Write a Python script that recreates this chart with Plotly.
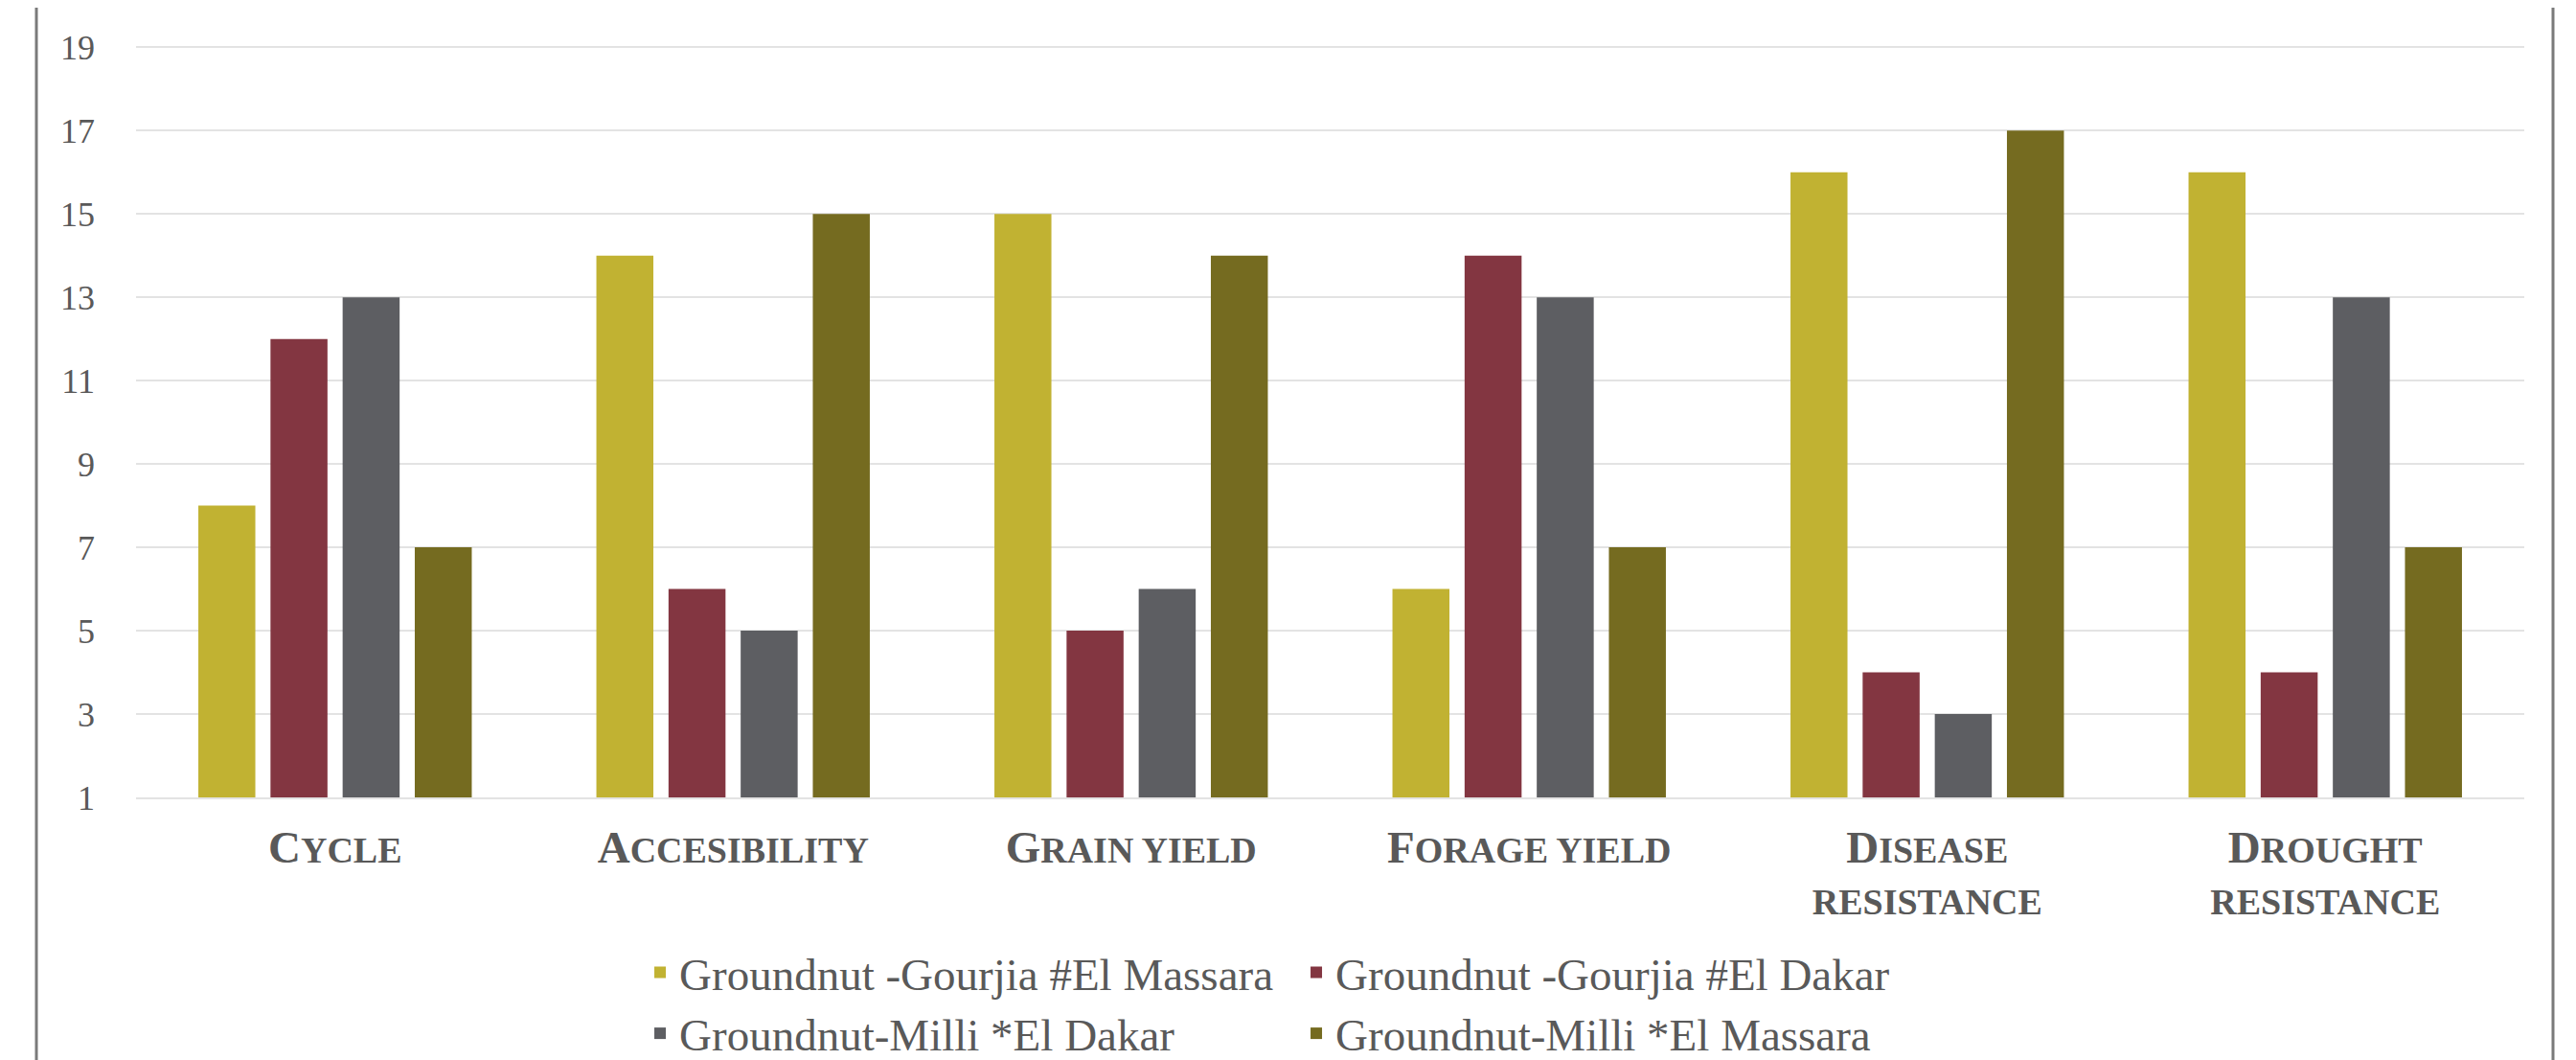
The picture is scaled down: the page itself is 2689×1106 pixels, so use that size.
import plotly.graph_objects as go

# ---- data ----
categories = ["Cycle", "Accesibility", "Grain yield", "Forage yield",
              "Disease<br>resistance", "Drought<br>resistance"]
series_names = ["Groundnut -Gourjia #El Massara", "Groundnut -Gourjia #El Dakar",
                "Groundnut-Milli *El Dakar", "Groundnut-Milli *El Massara"]
gourjia_massara = [8, 14, 15, 6, 16, 16]
gourjia_dakar = [12, 6, 5, 14, 4, 4]
milli_dakar = [13, 5, 6, 13, 3, 13]
milli_massara = [7, 15, 14, 7, 17, 7]
y_tick_values = [1, 3, 5, 7, 9, 11, 13, 15, 17, 19]

series_values = [gourjia_massara, gourjia_dakar, milli_dakar, milli_massara]
colors = ["#C1B232", "#833641", "#5D5E62", "#756B20"]
legend_ids = ["legend", "legend", "legend2", "legend2"]

# page body has an 8px margin: figure sized / placed to compensate
W, H = 2673, 1098
ML, MR, MT, MB = 134, 46, 40, 274
text_color = "#595959"
serif = "Liberation Serif"
BIG, SMALL = 47, 38


def small_caps(label):
    lines = []
    for line in label.split("<br>"):
        parts = []
        for i, word in enumerate(line.split(" ")):
            sep = " " if i > 0 else ""
            if word[:1].isupper():
                parts.append('<span style="font-size:%dpx">%s%s</span>' % (BIG, sep, word[0]))
                if word[1:]:
                    parts.append('<span style="font-size:%dpx">%s</span>' % (SMALL, word[1:].upper()))
            else:
                parts.append('<span style="font-size:%dpx">%s%s</span>' % (SMALL, sep, word.upper()))
        lines.append("".join(parts))
    return "<br>".join(lines)


tick_text = [small_caps(c) for c in categories]

fig = go.Figure()
for name, vals, col, lg in zip(series_names, series_values, colors, legend_ids):
    fig.add_trace(go.Bar(
        x=categories, y=vals, name=name,
        marker=dict(color=col, line=dict(width=0)),
        legend=lg,
    ))

plot_w = W - ML - MR
x_left = (30 - ML) / plot_w
x_right = (2657 - ML) / plot_w

legend_common = dict(
    orientation="h", xref="container", yref="container",
    xanchor="left", yanchor="middle",
    font=dict(family=serif, size=47, color=text_color),
    entrywidth=640, entrywidthmode="pixels",
    bgcolor="rgba(0,0,0,0)", borderwidth=0,
    traceorder="normal",
)

fig.update_layout(
    width=W, height=H,
    margin=dict(l=ML, r=MR, t=MT, b=MB, autoexpand=False),
    paper_bgcolor="white", plot_bgcolor="white",
    barmode="group", bargap=0.275, bargroupgap=0.21,
    font=dict(family=serif, color=text_color),
    showlegend=True,
    legend=dict(x=0.2473, y=0.083, **legend_common),
    legend2=dict(x=0.2473, y=0.025, **legend_common),
    xaxis=dict(
        showgrid=False, zeroline=False,
        showline=True, linecolor="#E3E3E3", linewidth=2,
        ticks="", ticklabelstandoff=17,
        tickvals=categories, ticktext=tick_text,
        tickfont=dict(family=serif, size=41, color=text_color, weight="bold"),
    ),
    yaxis=dict(
        range=[1, 19.03], tickvals=y_tick_values,
        showgrid=True, gridcolor="#E3E3E3", gridwidth=2,
        zeroline=False, showline=False, ticks="",
        ticklabelstandoff=42,
        tickfont=dict(family=serif, size=36, color=text_color),
    ),
    shapes=[
        dict(type="line", xref="paper", yref="paper",
             x0=x_left, x1=x_left, y0=-1, y1=2,
             line=dict(color="#7A7A7A", width=3)),
        dict(type="line", xref="paper", yref="paper",
             x0=x_right, x1=x_right, y0=-1, y1=2,
             line=dict(color="#7A7A7A", width=3)),
    ],
)

fig.write_html("out.html")
